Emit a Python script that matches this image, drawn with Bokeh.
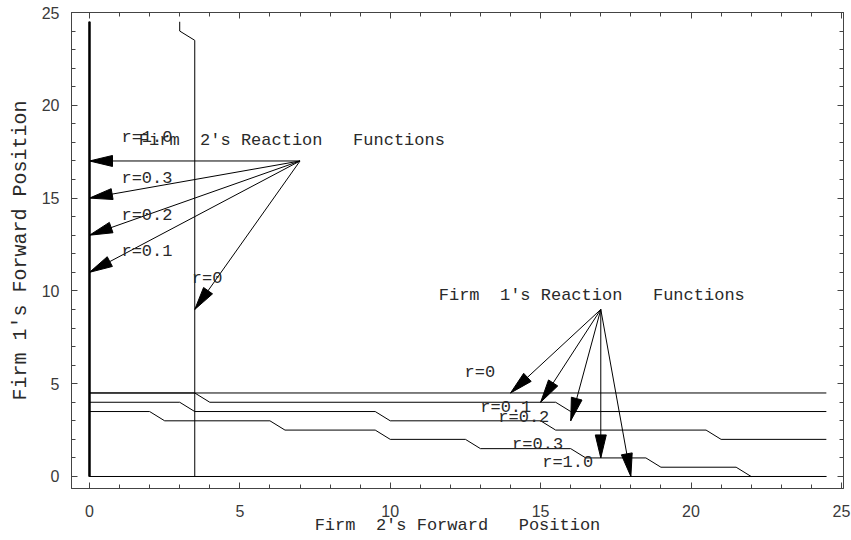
import numpy as np
from bokeh.plotting import figure
from bokeh.models import LinearAxis, FixedTicker, Range1d
from bokeh.core.properties import value
from bokeh.embed import file_html
from bokeh.resources import INLINE

# ---- Firm 1's reaction functions (Firm 1's position vs Firm 2's position) ----
f1_r0_x = [0, 24.5]
f1_r0_y = [4.5, 4.5]
f1_r01_x = [0, 3.5, 4, 15.5, 16, 24.5]
f1_r01_y = [4.5, 4.5, 4, 4, 3.5, 3.5]
f1_r02_x = [0, 3, 3.5, 9.5, 10, 15, 15.5, 20.5, 21, 24.5]
f1_r02_y = [4, 4, 3.5, 3.5, 3, 3, 2.5, 2.5, 2, 2]
f1_r03_x = [0, 2, 2.5, 6, 6.5, 9.5, 10, 12.5, 13, 16, 16.5, 18.5, 19, 21.5, 22, 24.5]
f1_r03_y = [3.5, 3.5, 3, 3, 2.5, 2.5, 2, 2, 1.5, 1.5, 1, 1, 0.5, 0.5, 0, 0]
f1_r10_x = [0, 24.5]
f1_r10_y = [0, 0]

# ---- Firm 2's reaction functions (Firm 2's position vs Firm 1's position) ----
f2_r0_y = [0, 23.5, 24, 24.5]
f2_r0_x = [3.5, 3.5, 3, 3]
f2_r01_y = [0, 24.5]
f2_r01_x = [0, 0]
f2_r02_y = [0, 24.5]
f2_r02_x = [0, 0]
f2_r03_y = [0, 24.5]
f2_r03_x = [0, 0]
f2_r10_y = [0, 24.5]
f2_r10_x = [0, 0]

# ---- annotations ----
f2_title = "Firm\u00a0\u00a02's Reaction\u00a0\u00a0\u00a0Functions"
f2_title_pos = (6.73, 18.13)
f2_arrow_from = (7, 17)
f2_labels = ["r=1.0", "r=0.3", "r=0.2", "r=0.1", "r=0"]
f2_tip_x = [0, 0, 0, 0, 3.5]
f2_tip_y = [17, 15, 13, 11, 9]
f2_label_x = [1.91, 1.91, 1.91, 1.91, 3.91]
f2_label_y = [18.24, 16.06, 14.08, 12.1, 10.67]

f1_title = "Firm\u00a0\u00a01's Reaction\u00a0\u00a0\u00a0Functions"
f1_title_pos = (16.7, 9.73)
f1_arrow_from = (17, 9)
f1_labels = ["r=0", "r=0.1", "r=0.2", "r=0.3", "r=1.0"]
f1_tip_x = [14, 15, 16, 17, 18]
f1_tip_y = [4.5, 4, 3, 1, 0]
f1_label_x = [12.98, 13.84, 14.44, 14.9, 15.9]
f1_label_y = [5.62, 3.73, 3.2, 1.71, 0.73]

x_label = "Firm\u00a0\u00a02's Forward\u00a0\u00a0\u00a0Position"
y_label = "Firm 1's Forward Position"
major_ticks = [0, 5, 10, 15, 20, 25]
minor_ticks = list(range(0, 26))

# ---- plot geometry ----
X0, X1 = -0.598, 25.07
Y0, Y1 = -0.647, 25.0
W, H = 851, 540
LEFT, RIGHT, TOP, BOTTOM = 71, 8, 12, 52
kx = (W - LEFT - RIGHT) / (X1 - X0)   # pixels per unit, x
ky = (H - TOP - BOTTOM) / (Y1 - Y0)   # pixels per unit, y

MONO = "Liberation Mono"
SANS = "Liberation Sans"
FRAME = "#444444"

p = figure(width=W, height=H, x_range=Range1d(X0, X1), y_range=Range1d(Y0, Y1),
           output_backend="svg", toolbar_location=None,
           min_border_left=LEFT, min_border_right=RIGHT,
           min_border_top=TOP, min_border_bottom=BOTTOM)
p.xgrid.visible = False
p.ygrid.visible = False
p.outline_line_color = FRAME
p.background_fill_color = "white"
p.border_fill_color = "white"

p.add_layout(LinearAxis(), "above")
p.add_layout(LinearAxis(), "right")

for ax in p.below + p.left + p.above + p.right:
    ax.ticker = FixedTicker(ticks=major_ticks, minor_ticks=minor_ticks)
    ax.axis_line_color = FRAME
    ax.major_tick_line_color = FRAME
    ax.minor_tick_line_color = FRAME
    ax.major_tick_out = 0
    ax.minor_tick_out = 0
    ax.major_tick_in = 6
    ax.minor_tick_in = 4
    ax.major_label_text_font = SANS
    ax.major_label_text_font_size = "16px"
    ax.major_label_text_color = "#3a3a3a"

# frame ticks only along the top and right edges
for ax in p.above + p.right:
    ax.major_label_text_font_size = "0px"
    ax.major_label_text_color = None
    ax.major_label_standoff = 0

xa = p.below[0]
ya = p.left[0]
for ax, label, size, standoff in [(xa, x_label, "17px", -4), (ya, y_label, "20px", 7)]:
    ax.axis_label = label
    ax.axis_label_text_font = MONO
    ax.axis_label_text_font_style = "normal"
    ax.axis_label_text_font_size = size
    ax.axis_label_text_color = "#2a2a2a"
    ax.axis_label_standoff = standoff
xa.major_label_standoff = 16
ya.major_label_standoff = 12

LINE = dict(line_color="black", line_width=1)

# Firm 1's reaction functions
for xs, ys in [(f1_r0_x, f1_r0_y), (f1_r01_x, f1_r01_y), (f1_r02_x, f1_r02_y),
               (f1_r03_x, f1_r03_y), (f1_r10_x, f1_r10_y)]:
    p.line(xs, ys, **LINE)

# Firm 2's reaction functions; the four coinciding ones along x = 0 read heavier
p.line(f2_r0_x, f2_r0_y, **LINE)
for xs, ys in [(f2_r01_x, f2_r01_y), (f2_r02_x, f2_r02_y),
               (f2_r03_x, f2_r03_y), (f2_r10_x, f2_r10_y)]:
    p.line(xs, ys, line_color="black", line_width=1.6)


def arrow_heads(origin, tips_x, tips_y, length=23, width=11):
    """Filled triangular heads at each tip, sized in screen pixels."""
    ox, oy = origin
    hx, hy = [], []
    for tx, ty in zip(tips_x, tips_y):
        dx, dy = (tx - ox) * kx, (ty - oy) * ky
        n = np.hypot(dx, dy)
        ux, uy = dx / n, dy / n
        bx, by = -length * ux, -length * uy
        px, py = -uy * width / 2, ux * width / 2
        hx.append([tx, tx + (bx + px) / kx, tx + (bx - px) / kx])
        hy.append([ty, ty + (by + py) / ky, ty + (by - py) / ky])
    return hx, hy


for origin, tx, ty in [(f2_arrow_from, f2_tip_x, f2_tip_y),
                       (f1_arrow_from, f1_tip_x, f1_tip_y)]:
    p.segment(x0=[origin[0]] * len(tx), y0=[origin[1]] * len(ty),
              x1=tx, y1=ty, line_color="black", line_width=1)
    hx, hy = arrow_heads(origin, tx, ty)
    p.patches(hx, hy, fill_color="black", line_color="black", line_width=1)

TEXT = dict(text_font=value(MONO), text_font_size="17px", text_color="#2a2a2a",
            text_align="center", text_baseline="middle")

p.text(x=f2_label_x, y=f2_label_y, text=f2_labels, **TEXT)
p.text(x=f1_label_x, y=f1_label_y, text=f1_labels, **TEXT)
p.text(x=[f2_title_pos[0]], y=[f2_title_pos[1]], text=[f2_title], **TEXT)
p.text(x=[f1_title_pos[0]], y=[f1_title_pos[1]], text=[f1_title], **TEXT)

open("out.html", "w").write(file_html(p, INLINE))
